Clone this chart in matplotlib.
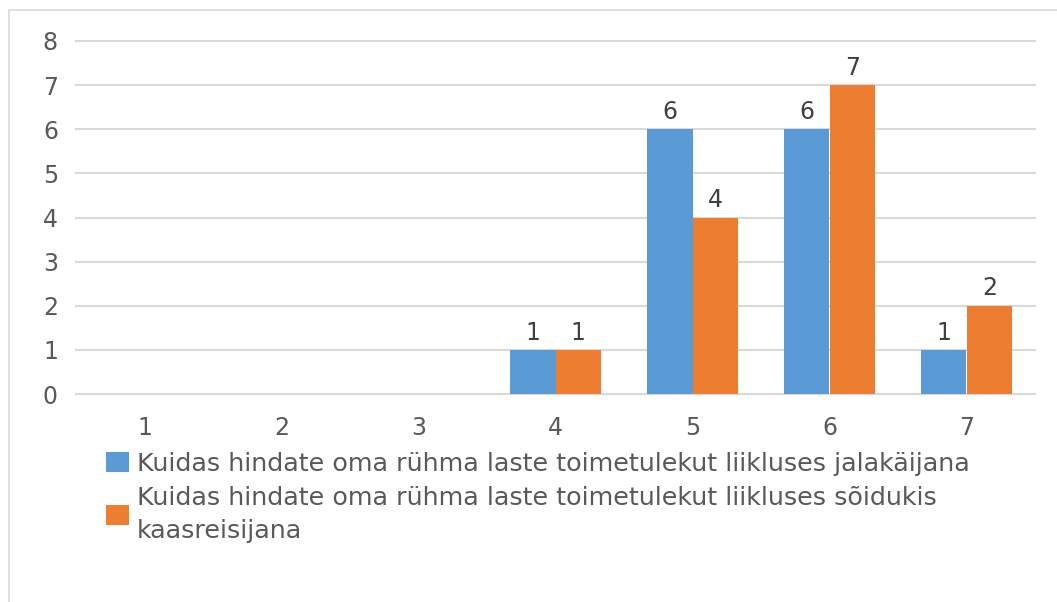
import matplotlib.pyplot as plt
from matplotlib.patches import Rectangle

categories = ['1', '2', '3', '4', '5', '6', '7']
jalakaija = [0, 0, 0, 1, 6, 6, 1]
kaasreisija = [0, 0, 0, 1, 4, 7, 2]
series_labels = [
    'Kuidas hindate oma rühma laste toimetulekut liikluses jalakäijana',
    'Kuidas hindate oma rühma laste toimetulekut liikluses sõidukis\nkaasreisijana',
]

BLUE = '#5B9BD5'
ORANGE = '#ED7D31'
TEXT = '#595959'
GRID = '#D9D9D9'

plt.rcParams['font.family'] = ['DejaVu Sans']


def main():
    fig = plt.figure(figsize=(10.57, 6.02), dpi=100)
    # outer chart frame (only top and left edges visible in the crop)
    fig.add_artist(Rectangle((9 / 1057, -0.1), 1.2, 1 - 10 / 602 + 0.1,
                             transform=fig.transFigure, fill=False,
                             edgecolor=GRID, linewidth=1.2))

    ax = fig.add_axes([76 / 1057, 1 - 394 / 602, 959 / 1057, 353 / 602])

    x = list(range(len(categories)))
    w = 1 / 3
    b1 = ax.bar([i - w / 2 for i in x], jalakaija, w, color=BLUE,
                label=series_labels[0], zorder=3)
    b2 = ax.bar([i + w / 2 for i in x], kaasreisija, w, color=ORANGE,
                label=series_labels[1], zorder=3)

    for bars, vals in ((b1, jalakaija), (b2, kaasreisija)):
        for bar, v in zip(bars, vals):
            if v:
                ax.text(bar.get_x() + bar.get_width() / 2, v + 0.12, str(v),
                        ha='center', va='bottom', fontsize=17, color='#404040')

    ax.set_xlim(-0.5, len(categories) - 0.5)
    ax.set_ylim(0, 8)
    ax.set_yticks(range(9))
    ax.set_xticks(x)
    ax.set_xticklabels(categories)
    ax.tick_params(axis='both', length=0, labelsize=17, labelcolor=TEXT)
    ax.tick_params(axis='x', pad=16)
    ax.tick_params(axis='y', pad=13)
    ax.grid(axis='y', color=GRID, linewidth=1.5, zorder=0)
    for gl in ax.get_ygridlines():
        gl.set_clip_on(False)
    for s in ax.spines.values():
        s.set_visible(False)

    leg = fig.legend(loc='upper left', bbox_to_anchor=(88 / 1057, 1 - 434 / 602),
                     frameon=False, fontsize=18.3, handlelength=0.92,
                     handleheight=0.8, handletextpad=0.3, labelspacing=0.4,
                     borderpad=0.2)
    for t in leg.get_texts():
        t.set_color(TEXT)
        t.set_linespacing(1.45)

    fig.savefig('out.png', dpi=100)


if __name__ == '__main__':
    main()
